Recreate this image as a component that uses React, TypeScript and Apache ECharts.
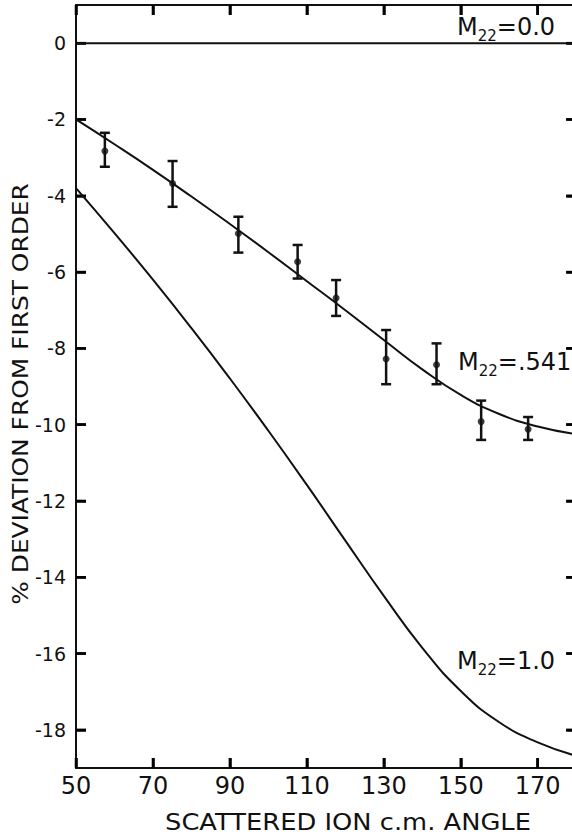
import React, { useEffect, useRef } from "react";
import * as echarts from "echarts";

// Axis ranges and ticks
const xRange = [50, 180];
const yRange = [-19, 1];
const xTicks = [50, 70, 90, 110, 130, 150, 170];
const yTicks = [0, -2, -4, -6, -8, -10, -12, -14, -16, -18];

// M22 = 0.0 reference line
const zeroX = [50, 180];
const zeroY = [0, 0];

// M22 = .541 curve
const midX = [50, 60, 70, 80, 90, 100, 110, 120, 130, 140, 150, 160, 170, 180];
const midY = [-2.0, -2.65, -3.32, -4.02, -4.74, -5.48, -6.24, -7.0, -7.78, -8.55, -9.22, -9.72, -10.05, -10.25];

// M22 = 1.0 curve
const oneX = [50, 60, 70, 80, 90, 100, 110, 120, 130, 140, 150, 160, 170, 180];
const oneY = [-3.8, -4.98, -6.2, -7.47, -8.79, -10.16, -11.58, -13.04, -14.49, -15.85, -16.98, -17.8, -18.33, -18.68];

// Measured points with error bars
const errX = [57.5, 75.1, 92.2, 107.6, 117.6, 130.6, 143.7, 155.3, 167.5];
const errY = [-2.83, -3.68, -4.99, -5.73, -6.68, -8.28, -8.43, -9.92, -10.12];
const errLow = [-3.24, -4.29, -5.49, -6.17, -7.15, -8.94, -8.94, -10.4, -10.4];
const errHigh = [-2.35, -3.09, -4.55, -5.29, -6.21, -7.52, -7.87, -9.37, -9.8];

const FONT = "DejaVu Sans";
const INK = "#111";
const TICK_INK = "#000";
const TICK = 10;

export default function App() {
  const ref = useRef<HTMLDivElement>(null);
  useEffect(() => {
    if (!ref.current) return;
    const chart = echarts.init(ref.current, undefined, { renderer: "svg" });
    const mkLine = () => ({ show: true, onZero: false, lineStyle: { color: INK, width: 2 } });
    const mkTick = (vals: number[]) => ({
      show: true,
      inside: true,
      length: TICK,
      customValues: vals,
      lineStyle: { color: TICK_INK, width: 2.5 },
    });
    const rich = {
      m: { fontFamily: FONT, fontSize: 24, lineHeight: 33, fill: INK, color: INK },
      s: { fontFamily: FONT, fontSize: 15, lineHeight: 15, verticalAlign: "bottom", fill: INK, color: INK },
    };
    const mkLabel = (val: string, x: number, y: number) => ({
      type: "text",
      x,
      y,
      style: {
        text: `{m|M}{s|22}{m|=${val}}`,
        rich,
        align: "left",
        verticalAlign: "middle",
        fill: INK,
      },
    });
    const tickSeries = (data: number[][], dx: number, dy: number) => ({
      type: "custom",
      data,
      encode: { x: 0, y: 1 },
      renderItem: (_p: any, api: any) => {
        const p = api.coord([api.value(0), api.value(1)]);
        return {
          type: "line",
          shape: { x1: p[0], y1: p[1], x2: p[0] + dx, y2: p[1] + dy },
          style: { stroke: TICK_INK, lineWidth: 2.5 },
        };
      },
    });
    chart.setOption({
      animation: false,
      backgroundColor: "#fff",
      grid: { left: 76, top: 5, width: 500.2, height: 763 },
      xAxis: [
        {
          type: "value",
          min: xRange[0],
          max: xRange[1],
          interval: 20,
          position: "bottom",
          axisLine: mkLine(),
          axisTick: mkTick(xTicks),
          axisLabel: {
            customValues: xTicks,
            margin: 6,
            fontFamily: FONT,
            fontSize: 24,
            color: INK,
          },
          splitLine: { show: false },
        },
        {
          type: "value",
          min: xRange[0],
          max: xRange[1],
          interval: 20,
          position: "top",
          axisLine: mkLine(),
          axisTick: mkTick(xTicks),
          axisLabel: { show: false },
          splitLine: { show: false },
        },
      ],
      yAxis: [
        {
          type: "value",
          min: yRange[0],
          max: yRange[1],
          position: "left",
          axisLine: mkLine(),
          axisTick: mkTick(yTicks),
          axisLabel: {
            customValues: yTicks,
            margin: 10,
            fontFamily: FONT,
            fontSize: 19,
            color: INK,
          },
          splitLine: { show: false },
        },
        {
          type: "value",
          min: yRange[0],
          max: yRange[1],
          position: "right",
          axisLine: mkLine(),
          axisTick: mkTick(yTicks),
          axisLabel: { show: false },
          splitLine: { show: false },
        },
      ],
      graphic: [
        {
          type: "text",
          x: 20.3,
          y: 394,
          rotation: Math.PI / 2,
          scaleX: 1.13,
          style: {
            text: "% DEVIATION FROM FIRST ORDER",
            fontFamily: FONT,
            fontSize: 22,
            fill: INK,
            align: "center",
            verticalAlign: "middle",
          },
        },
        {
          type: "text",
          x: 348,
          y: 821.7,
          scaleX: 1.12,
          style: {
            text: "SCATTERED ION c.m. ANGLE",
            fontFamily: FONT,
            fontSize: 23,
            fill: INK,
            align: "center",
            verticalAlign: "middle",
          },
        },
        mkLabel("0.0", 457, 27),
        mkLabel(".541", 458, 362),
        mkLabel("1.0", 457, 661),
      ],
      series: [
        {
          type: "line",
          data: zeroX.map((x, i) => [x, zeroY[i]]),
          showSymbol: false,
          lineStyle: { color: INK, width: 2 },
        },
        {
          type: "line",
          data: midX.map((x, i) => [x, midY[i]]),
          smooth: true,
          showSymbol: false,
          lineStyle: { color: INK, width: 2 },
        },
        {
          type: "line",
          data: oneX.map((x, i) => [x, oneY[i]]),
          smooth: true,
          showSymbol: false,
          lineStyle: { color: INK, width: 2 },
        },
        {
          type: "custom",
          data: errX.map((x, i) => [x, errLow[i], errHigh[i]]),
          encode: { x: 0, y: [1, 2] },
          renderItem: (_params: any, api: any) => {
            const x = api.value(0);
            const pLo = api.coord([x, api.value(1)]);
            const pHi = api.coord([x, api.value(2)]);
            const w = 5;
            const st = { stroke: INK, lineWidth: 2.5 };
            return {
              type: "group",
              children: [
                { type: "line", shape: { x1: pLo[0], y1: pLo[1], x2: pHi[0], y2: pHi[1] }, style: st },
                { type: "line", shape: { x1: pLo[0] - w, y1: pLo[1], x2: pLo[0] + w, y2: pLo[1] }, style: st },
                { type: "line", shape: { x1: pHi[0] - w, y1: pHi[1], x2: pHi[0] + w, y2: pHi[1] }, style: st },
              ],
            };
          },
        },
        {
          type: "scatter",
          data: errX.map((x, i) => [x, errY[i]]),
          symbol: "circle",
          symbolSize: 7,
          itemStyle: { color: INK },
        },
        tickSeries(xTicks.map((v) => [v, yRange[0]]), 0, -TICK),
        tickSeries(xTicks.map((v) => [v, yRange[1]]), 0, TICK),
        tickSeries(yTicks.map((v) => [xRange[0], v]), TICK, 0),
        tickSeries(yTicks.map((v) => [xRange[1], v]), -TICK, 0),
      ],
    });
    return () => chart.dispose();
  }, []);
  return (
    <div
      style={{
        position: "fixed",
        left: 0,
        top: 0,
        width: 572,
        height: 834,
        overflow: "hidden",
        background: "#fff",
      }}
    >
      <div ref={ref} style={{ width: 600, height: 834 }} />
    </div>
  );
}
